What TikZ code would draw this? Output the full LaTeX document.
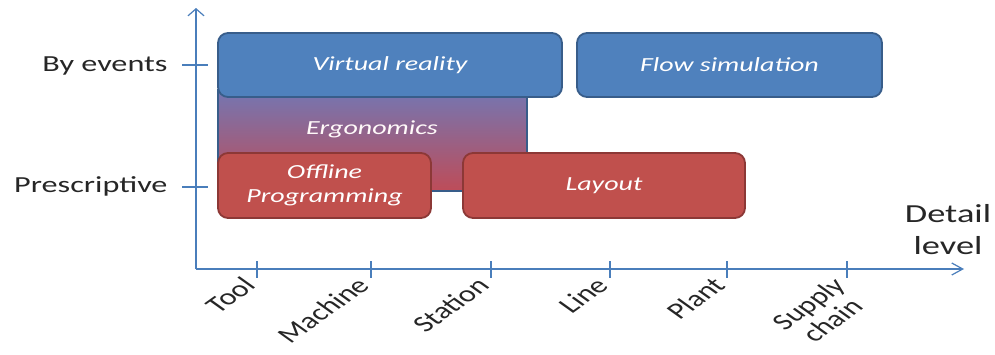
\documentclass[tikz,border=0pt]{standalone}
\usepackage{fontspec}
\setmainfont{Carlito}[FakeStretch=1.4]
\newfontfamily\tickfont{Carlito}
\usetikzlibrary{arrows.meta}

\definecolor{axisblue}{HTML}{4A7EBB}
\definecolor{boxblue}{HTML}{4F81BD}
\definecolor{boxblueline}{HTML}{385D8A}
\definecolor{boxred}{HTML}{C0504D}
\definecolor{boxredline}{HTML}{8C3836}
\definecolor{ergotop}{HTML}{7476B2}
\definecolor{ergobottom}{HTML}{BE4C58}
\definecolor{labelgrey}{HTML}{262626}

\begin{document}
\begin{tikzpicture}[x=1pt,y=-1pt]
\tikzstyle{axis}=[axisblue,line width=1.2pt]
\tikzstyle{bluebox}=[draw=boxblueline,fill=boxblue,line width=1.8pt,rounded corners=10pt,inner sep=0pt,
  text=white,font=\fontsize{20}{24}\selectfont\itshape,align=center]
\tikzstyle{redbox}=[bluebox,draw=boxredline,fill=boxred]
\tikzstyle{levelname}=[text=labelgrey,font=\tickfont\fontsize{23}{24}\selectfont,xscale=1.4,rotate=45,
  anchor=north east,align=center,inner sep=1pt]
\tikzstyle{kindname}=[text=labelgrey,font=\fontsize{23}{26}\selectfont,anchor=east]

\useasboundingbox (0,0) rectangle (995,354);

% axes
\coordinate (origin) at (196,269);
\coordinate (ytop) at (196,8);
\coordinate (xend) at (964,269);
\draw[axis,-{Straight Barb[length=7pt,width=16pt]}] (origin) -- (ytop);
\draw[axis,-{Straight Barb[length=11pt,width=12pt]}] (origin) -- (xend);

% detail levels
\foreach \x/\name/\txt in {257/tool/Tool,371/machine/Machine,491/station/Station,
  610/line/Line,727/plant/Plant,847/supply/{Supply\\chain}}
{
  \draw[axis] (\x,261) -- (\x,278);
  \node[levelname] (\name) at (\x-16,274) {\txt};
}

% simulation kinds
\draw[axis] (182,65) -- (208,65);
\draw[axis] (182,187) -- (208,187);
\node[kindname] (byevents) at (171,66) {By events};
\node[kindname] (prescriptive) at (171,186) {Prescriptive};

\node[text=labelgrey,font=\fontsize{26}{32}\selectfont,align=center] (detail) at (948,230) {Detail\\level};

% tools
\draw[draw=boxblueline,line width=1.8pt,top color=ergotop,bottom color=ergobottom] (218,90) rectangle (527,191);
\node[text=white!90!pink,font=\fontsize{20}{24}\selectfont\itshape] (ergo) at (372,129) {Ergonomics};

\node[bluebox,minimum width=344pt,minimum height=64pt] (vr) at (390,65) {Virtual reality};
\node[bluebox,minimum width=305pt,minimum height=64pt] (flow) at (729.5,65) {Flow simulation};
\node[redbox,minimum width=213pt,minimum height=65pt] (offline) at (324.5,185.5) {Offline\\Programming};
\node[redbox,minimum width=282pt,minimum height=65pt] (layout) at (604,185.5) {Layout};

\end{tikzpicture}
\end{document}
